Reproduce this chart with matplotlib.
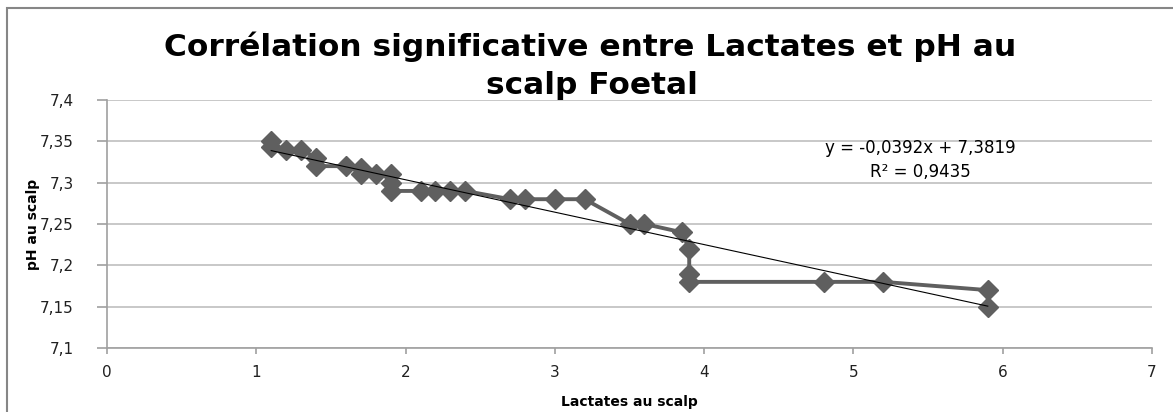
import numpy as np
import matplotlib.pyplot as plt
from matplotlib.ticker import FuncFormatter, MultipleLocator
from matplotlib.patches import Rectangle

plt.rcParams['font.family'] = ['DejaVu Sans']

lactates = [1.1, 1.1, 1.2, 1.3, 1.4, 1.4, 1.6, 1.7, 1.7, 1.8, 1.9, 1.9, 1.9,
            2.1, 2.2, 2.3, 2.4, 2.7, 2.8, 3.0, 3.2, 3.5, 3.6, 3.85, 3.9, 3.9,
            3.9, 4.8, 5.2, 5.9, 5.9]
ph = [7.35, 7.343, 7.34, 7.34, 7.33, 7.32, 7.32, 7.318, 7.311, 7.31, 7.31, 7.30, 7.29,
      7.29, 7.29, 7.29, 7.29, 7.28, 7.28, 7.28, 7.28, 7.25, 7.25, 7.24, 7.22, 7.19,
      7.18, 7.18, 7.18, 7.17, 7.15]
slope = -0.0392
intercept = 7.3819
r2 = 0.9435

W, H = 1173, 412
fig = plt.figure(figsize=(W / 100, H / 100), dpi=100)
# chart area border (only left and top visible in the crop)
fig.patches.append(Rectangle((7 / W, -0.2), 1.5, 1.2 - 8 / H,
                             transform=fig.transFigure, fill=False,
                             edgecolor='#868686', lw=1.5))
ax = fig.add_axes([107 / W, 64 / H, 1045 / W, 248 / H])

ax.plot(lactates, ph, color='#5f5f5f', lw=2.8, marker='D', markersize=10,
        markeredgecolor='#5f5f5f', zorder=3)
xt = np.array([min(lactates), max(lactates)])
ax.plot(xt, slope * xt + intercept, color='black', lw=0.8, zorder=4)

ax.set_xlim(0, 7)
ax.set_ylim(7.1, 7.4)
ax.xaxis.set_major_locator(MultipleLocator(1))
ax.yaxis.set_major_locator(MultipleLocator(0.05))
fmt = FuncFormatter(lambda v, p: ('%g' % round(v, 2)).replace('.', ','))
ax.xaxis.set_major_formatter(fmt)
ax.yaxis.set_major_formatter(fmt)
ax.grid(axis='y', color='#bfbfbf', lw=1.2)
ax.set_axisbelow(True)
for s in ['top', 'right']:
    ax.spines[s].set_visible(False)
for s in ['left', 'bottom']:
    ax.spines[s].set_color('#a0a0a0')
    ax.spines[s].set_linewidth(1.2)
ax.tick_params(colors='#a0a0a0', labelcolor='#202020', labelsize=11, width=1.2)
ax.tick_params(axis='x', length=4, pad=8)
ax.tick_params(axis='y', length=7, pad=17)

fig.text(629 / W, 1 - 402 / H, 'Lactates au scalp', ha='center', va='center',
         fontsize=10, fontweight='bold')
fig.text(33 / W, 1 - 224 / H, 'pH au scalp', rotation=90, ha='center',
         va='center', fontsize=10, fontweight='bold')

fig.text(590 / W, 1 - 56 / H, 'Corrélation significative entre Lactates et pH au',
         ha='center', va='baseline', fontsize=22.5, fontweight='bold')
fig.text(592 / W, 1 - 94 / H, 'scalp Foetal', ha='center', va='baseline',
         fontsize=22.5, fontweight='bold')

ax.text(5.446, 7.342, 'y = -0,0392x + 7,3819', ha='center', va='center', fontsize=12)
ax.text(5.446, 7.313, 'R² = 0,9435', ha='center', va='center', fontsize=12)

fig.savefig('out.png', dpi=100)
